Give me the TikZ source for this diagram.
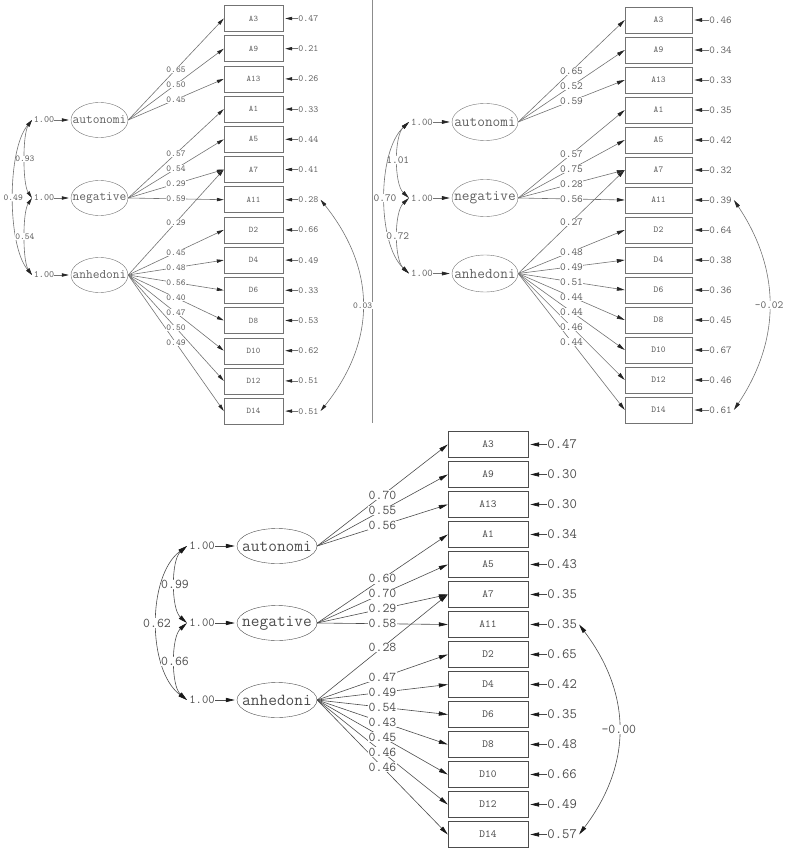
\documentclass[tikz,border=0pt]{standalone}
\usepackage{fontspec}
\usetikzlibrary{arrows.meta,shapes.geometric}
\newcommand\myfs[1]{\ttfamily\fontsize{#1}{#1}\selectfont}
\newcommand\zb[1]{\makebox[0pt][c]{#1}}
\tikzset{
  ind/.style={draw=linec, minimum width=\BW, minimum height=\BH, inner sep=0pt, font=\FB, text=txtc},
  fac/.style={ellipse, draw=linec, minimum width=\EW, minimum height=\EH, inner sep=0pt, font=\FE, text=txtc},
  lab/.style={fill=white, inner sep=0.5pt, font=\FL, text=txtc},
  errl/.style={inner sep=0pt, font=\FR, text=txtc, anchor=west},
  onel/.style={inner sep=0pt, font=\FO, text=txtc},
  load/.style={draw=linec, line width=0.6pt, -{Triangle[length=\TL, width=\TW, color=tipc]}},
  arr/.style={draw=linec, line width=0.6pt, shorten >=2pt, -{Triangle[length=\TL, width=\TW, color=tipc]}},
  cov/.style={draw=linec, line width=0.6pt, {Triangle[length=\TL, width=\TW, color=tipc]}-{Triangle[length=\TL, width=\TW, color=tipc]}},
}
% #1 prefix, #2 loadings, #3 errors, #4 aut-neg, #5 aut-anh, #6 neg-anh, #7 correlated error
\newcommand\drawpanel[7]{%
  \foreach \n [count=\i from 0] in {A3,A9,A13,A1,A5,A7,A11,D2,D4,D6,D8,D10,D12,D14}
    \node[ind] (#1\n) at (\BX,\BY+\i*\BS) {\n};
  \node[fac] (#1aut) at (\EX,\EYa) {\zb{autonomi}};
  \node[fac] (#1neg) at (\EX,\EYn) {\zb{negative}};
  \node[fac] (#1anh) at (\EX,\EYd) {\zb{anhedoni}};
  \foreach \f/\y in {aut/\EYa,neg/\EYn,anh/\EYd} {
    \node[onel] (#1o\f) at (\OX,\y) {1.00};
    \coordinate (#1c\f) at (\OX-\OC,\y);
    \draw[arr] (#1o\f) -- (#1\f);
  }
  \foreach \f/\t/\v in {#2} \draw[load] (#1\f.east) -- (#1\t.west);
  \foreach \f/\t/\v in {#2} \path (#1\f.east) -- (#1\t.west) node[lab,midway] {\v};
  \foreach \t/\v in {#3} {
    \node[errl] (#1e\t) at ([xshift=\EG]#1\t.east) {\v};
    \draw[arr] (#1e\t) -- (#1\t);
  }
  \draw[cov] (#1caut) .. controls +(-\CI,14) and +(-\CI,-14) .. (#1cneg) node[lab,midway] {#4};
  \draw[cov] (#1caut) .. controls +(-\CO,30) and +(-\CO,-30) .. (#1canh) node[lab,midway] {#5};
  \draw[cov] (#1cneg) .. controls +(-\CI,14) and +(-\CI,-14) .. (#1canh) node[lab,midway] {#6};
  \draw[cov] ([xshift=2pt]#1eA11.east) .. controls +(\RD,70) and +(\RD,-70) .. ([xshift=2pt]#1eD14.east) node[lab,midway] {#7};
}
\begin{document}
\begin{tikzpicture}[x=1pt,y=-1pt]
\useasboundingbox (0,0) rectangle (786,850);
% divider
\coordinate (divtop) at (372,0);
\coordinate (divbot) at (372,423);
\draw[black!45, line width=0.6pt] (divtop) -- (divbot);
% ---------------- top left ----------------
\begin{scope}
  \colorlet{linec}{black!55}\colorlet{txtc}{black!62}\colorlet{tipc}{black!85}
  \def\BX{253.5}\def\BW{59pt}\def\BH{26pt}\def\BY{18.5}\def\BS{30.2}
  \def\EX{99.5}\def\EW{57pt}\def\EH{35pt}\def\EYa{120}\def\EYn{198}\def\EYd{275}
  \def\OX{44}\def\OC{12}\def\CI{9.5}\def\CO{25}\def\RD{56}\def\EG{15pt}
  \def\TL{7pt}\def\TW{3.4pt}
  \def\FL{\myfs{9.1}}\def\FR{\myfs{9.5}}\def\FE{\myfs{13.1}}\def\FB{\myfs{8.6}}\def\FO{\myfs{9.7}}
  \drawpanel{TL}{aut/A3/0.65, aut/A9/0.50, aut/A13/0.45, neg/A1/0.57, neg/A5/0.54, neg/A7/0.29, neg/A11/0.59, anh/A7/0.29, anh/D2/0.45, anh/D4/0.48, anh/D6/0.56, anh/D8/0.40, anh/D10/0.47, anh/D12/0.50, anh/D14/0.49}{A3/0.47, A9/0.21, A13/0.26, A1/0.33, A5/0.44, A7/0.41, A11/0.28, D2/0.66, D4/0.49, D6/0.33, D8/0.53, D10/0.62, D12/0.51, D14/0.51}{0.93}{0.49}{0.54}{0.03}
\end{scope}
% ---------------- top right ----------------
\begin{scope}
  \colorlet{linec}{black!55}\colorlet{txtc}{black!62}\colorlet{tipc}{black!85}
  \def\BX{658.5}\def\BW{67pt}\def\BH{26pt}\def\BY{20}\def\BS{30}
  \def\EX{485}\def\EW{66pt}\def\EH{37pt}\def\EYa{122}\def\EYn{198}\def\EYd{273.5}
  \def\OX{422}\def\OC{13}\def\CI{15}\def\CO{32}\def\RD{47}\def\EG{17pt}
  \def\TL{8pt}\def\TW{3.8pt}
  \def\FL{\myfs{10.9}}\def\FR{\myfs{10.6}}\def\FE{\myfs{14.9}}\def\FB{\myfs{9.1}}\def\FO{\myfs{10.3}}
  \drawpanel{TR}{aut/A3/0.65, aut/A9/0.52, aut/A13/0.59, neg/A1/0.57, neg/A5/0.75, neg/A7/0.28, neg/A11/0.56, anh/A7/0.27, anh/D2/0.48, anh/D4/0.49, anh/D6/0.51, anh/D8/0.44, anh/D10/0.44, anh/D12/0.46, anh/D14/0.44}{A3/0.46, A9/0.34, A13/0.33, A1/0.35, A5/0.42, A7/0.32, A11/0.39, D2/0.64, D4/0.38, D6/0.36, D8/0.45, D10/0.67, D12/0.46, D14/0.61}{1.01}{0.70}{0.72}{-0.02}
\end{scope}
% ---------------- bottom ----------------
\begin{scope}
  \colorlet{linec}{black!70}\colorlet{txtc}{black!70}\colorlet{tipc}{black!90}
  \def\BX{488}\def\BW{80pt}\def\BH{26pt}\def\BY{444.5}\def\BS{30}
  \def\EX{277}\def\EW{80pt}\def\EH{35pt}\def\EYa{546}\def\EYn{623}\def\EYd{700}
  \def\OX{202}\def\OC{15}\def\CI{16}\def\CO{40}\def\RD{53}\def\EG{19pt}
  \def\TL{9pt}\def\TW{4.2pt}
  \def\FL{\myfs{13.4}}\def\FR{\myfs{14.3}}\def\FE{\myfs{16.9}}\def\FB{\myfs{10.9}}\def\FO{\myfs{12.3}}
  \drawpanel{B}{aut/A3/0.70, aut/A9/0.55, aut/A13/0.56, neg/A1/0.60, neg/A5/0.70, neg/A7/0.29, neg/A11/0.58, anh/A7/0.28, anh/D2/0.47, anh/D4/0.49, anh/D6/0.54, anh/D8/0.43, anh/D10/0.45, anh/D12/0.46, anh/D14/0.46}{A3/0.47, A9/0.30, A13/0.30, A1/0.34, A5/0.43, A7/0.35, A11/0.35, D2/0.65, D4/0.42, D6/0.35, D8/0.48, D10/0.66, D12/0.49, D14/0.57}{0.99}{0.62}{0.66}{-0.00}
\end{scope}
\end{tikzpicture}
\end{document}
